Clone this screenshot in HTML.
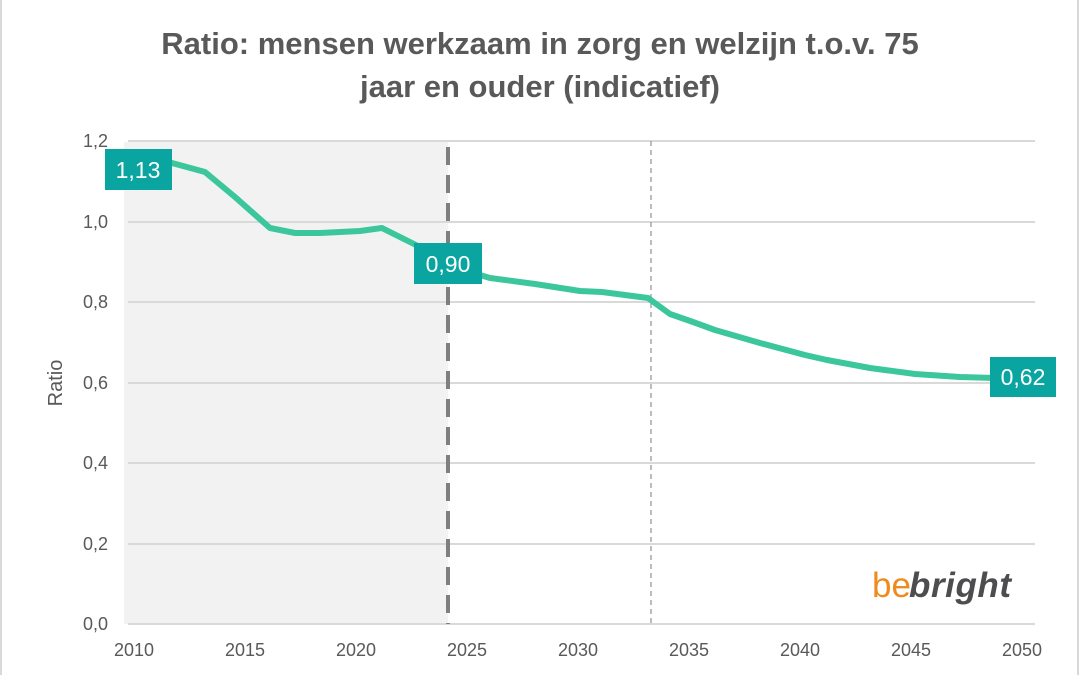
<!DOCTYPE html>
<html><head><meta charset="utf-8"><style>
body{margin:0;background:#fff;}
svg{display:block;font-family:"Liberation Sans",sans-serif;}
</style></head><body>
<svg width="1080" height="675" viewBox="0 0 1080 675">
<rect x="1" y="-2" width="1077" height="680" fill="#fff" stroke="#d9d9d9" stroke-width="2"/>
<text x="540" y="54" text-anchor="middle" font-size="31" font-weight="bold" fill="#595959">Ratio: mensen werkzaam in zorg en welzijn t.o.v. 75</text>
<text x="540" y="97" text-anchor="middle" font-size="31" font-weight="bold" fill="#595959">jaar en ouder (indicatief)</text>
<rect x="124" y="142" width="324" height="482" fill="#f2f2f2"/>
<g stroke="#d9d9d9" stroke-width="2">
<line x1="128" y1="141" x2="1035" y2="141"/>
<line x1="128" y1="222" x2="1035" y2="222"/>
<line x1="128" y1="302" x2="1035" y2="302"/>
<line x1="128" y1="383" x2="1035" y2="383"/>
<line x1="128" y1="463" x2="1035" y2="463"/>
<line x1="128" y1="544" x2="1035" y2="544"/>
<line x1="128" y1="624" x2="1035" y2="624"/>
</g>
<g font-size="18" fill="#595959" text-anchor="end">
<text x="108" y="147">1,2</text><text x="108" y="228">1,0</text><text x="108" y="308">0,8</text>
<text x="108" y="389">0,6</text><text x="108" y="469">0,4</text><text x="108" y="550">0,2</text><text x="108" y="630">0,0</text>
</g>
<g font-size="18" fill="#595959" text-anchor="middle">
<text x="134" y="656">2010</text><text x="245" y="656">2015</text><text x="356" y="656">2020</text><text x="467" y="656">2025</text>
<text x="578" y="656">2030</text><text x="689" y="656">2035</text><text x="800" y="656">2040</text><text x="911" y="656">2045</text><text x="1022" y="656">2050</text>
</g>
<text transform="translate(62,383) rotate(-90)" font-size="20" fill="#595959" text-anchor="middle">Ratio</text>
<line x1="448" y1="147" x2="448" y2="624" stroke="#7f7f7f" stroke-width="4" stroke-dasharray="18,10"/>
<line x1="651" y1="141" x2="651" y2="624" stroke="#a6a6a6" stroke-width="1.5" stroke-dasharray="5,4"/>
<polyline fill="none" stroke="#3cc69b" stroke-width="6" stroke-linejoin="round" points="140,162 172,163 205,172 235,197 270,228 295,233 320,233 360,231 382,228 420,247 448,262 470,272 490,278 535,284 580,291 602,292 648,298 670,314 693,322 715,330 760,343 805,355 827,360 870,368 915,374 960,377 995,378"/>
<rect x="105" y="149" width="67" height="41" fill="#0aa5a0"/>
<text x="138" y="178" text-anchor="middle" font-size="23" fill="#fff">1,13</text>
<rect x="414" y="243" width="68" height="41" fill="#0aa5a0"/>
<text x="448" y="272" text-anchor="middle" font-size="23" fill="#fff">0,90</text>
<rect x="990" y="357" width="66" height="40" fill="#0aa5a0"/>
<text x="1023" y="385" text-anchor="middle" font-size="23" fill="#fff">0,62</text>
<text x="872" y="597" font-size="35" fill="#f08a1c">be</text>
<text x="909" y="597" font-size="35" font-style="italic" font-weight="bold" fill="#4d4d4f" textLength="102">bright</text>
</svg>
</body></html>
